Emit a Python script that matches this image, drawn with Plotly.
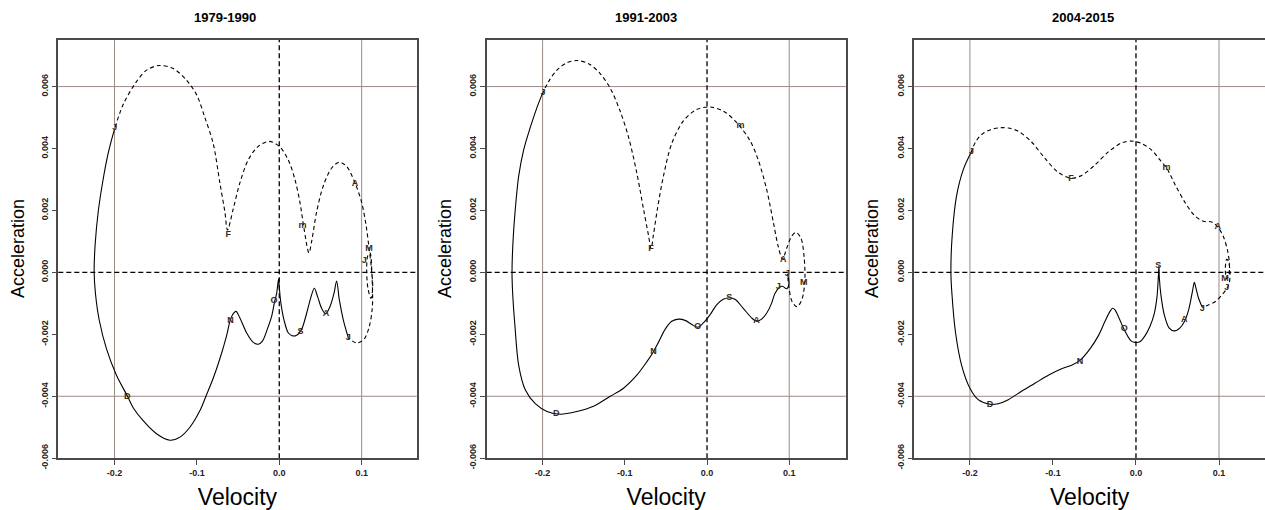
import plotly.graph_objects as go

# ---------------- data ----------------
panel_titles = ["1979-1990", "1991-2003", "2004-2015"]
month_labels = ["J", "F", "m", "A", "M", "J", "J", "A", "S", "O", "N", "D"]

xtick_vals = [-0.2, -0.1, 0.0, 0.1]
xtick_text = ["-0.2", "-0.1", "0.0", "0.1"]
ytick_vals = [-0.006, -0.004, -0.002, 0.0, 0.002, 0.004, 0.006]
ytick_text = ["-0.006", "-0.004", "-0.002", "0.000", "0.002", "0.004", "0.006"]

ref_vlines = [-0.2, 0.1]
ref_hlines = [0.006, -0.004]

# Panel 1 (1979-1990): Jan -> Jul (dashed)
p1_dash_vel = [-0.2016, -0.1895, -0.1733, -0.1611, -0.1457, -0.1287, -0.1126, -0.1004, -0.0903, -0.0802,
               -0.0721, -0.0660, -0.0628, -0.0559, -0.0478, -0.0377, -0.0255, -0.0121, 0.0008, 0.0109,
               0.0190, 0.0251, 0.0300, 0.0360, 0.0393, 0.0453, 0.0534, 0.0636, 0.0729, 0.0818,
               0.0919, 0.1000, 0.1053, 0.1085, 0.1117, 0.1134, 0.1113, 0.1077, 0.1061, 0.1073,
               0.1101, 0.1126, 0.1130, 0.1093, 0.1028, 0.0939, 0.0838]
p1_dash_acc = [0.00447, 0.00542, 0.00616, 0.00653, 0.00668, 0.00658, 0.00621, 0.00574, 0.00500, 0.00416,
               0.00289, 0.00195, 0.00137, 0.00205, 0.00289, 0.00363, 0.00407, 0.00423, 0.00405, 0.00363,
               0.00300, 0.00226, 0.00142, 0.00063, 0.00100, 0.00195, 0.00279, 0.00337, 0.00356, 0.00342,
               0.00289, 0.00226, 0.00153, 0.00089, 0.00016, -0.00047, -0.00084, -0.00053, 0.00005, 0.00053,
               0.00063, -0.00016, -0.00111, -0.00174, -0.00216, -0.00228, -0.00211]
# Panel 1: Jul -> Jan (solid)
p1_solid_vel = [0.0838, 0.0777, 0.0729, 0.0696, 0.0664, 0.0615, 0.0563, 0.0514, 0.0466, 0.0425,
                0.0385, 0.0332, 0.0271, 0.0211, 0.0162, 0.0109, 0.0057, 0.0020, 0.0000, -0.0008,
                -0.0032, -0.0057, -0.0093, -0.0146, -0.0202, -0.0255, -0.0316, -0.0397, -0.0478, -0.0526,
                -0.0567, -0.0599, -0.0640, -0.0721, -0.0802, -0.0883, -0.0964, -0.1085, -0.1206, -0.1328,
                -0.1490, -0.1652, -0.1773, -0.1842, -0.1976, -0.2097, -0.2186, -0.2231, -0.2247, -0.2235,
                -0.2198, -0.2138, -0.2077, -0.2016]
p1_solid_acc = [-0.00211, -0.00153, -0.00089, -0.00028, -0.00068, -0.00111, -0.00134, -0.00116, -0.00079, -0.00051,
                -0.00079, -0.00132, -0.00184, -0.00203, -0.00205, -0.00195, -0.00153, -0.00100, -0.00047, -0.00021,
                -0.00068, -0.00095, -0.00142, -0.00184, -0.00221, -0.00232, -0.00226, -0.00195, -0.00147, -0.00126,
                -0.00137, -0.00158, -0.00205, -0.00279, -0.00342, -0.00395, -0.00447, -0.00500, -0.00532, -0.00542,
                -0.00521, -0.00479, -0.00437, -0.00400, -0.00332, -0.00247, -0.00153, -0.00068, 0.0, 0.00089,
                0.00195, 0.00300, 0.00384, 0.00447]
p1_lab_vel = [-0.1996, -0.0619, 0.0283, 0.0919, 0.1089, 0.1032, 0.0838, 0.0567, 0.0259, -0.0065, -0.0591, -0.1846]
p1_lab_acc = [0.00466, 0.00123, 0.00149, 0.00286, 0.00077, 0.00037, -0.00211, -0.00134, -0.00193, -0.00092, -0.00155, -0.00400]

# Panel 2 (1991-2003)
p2_dash_vel = [-0.2008, -0.1927, -0.1826, -0.1704, -0.1583, -0.1441, -0.1300, -0.1178, -0.1057, -0.0955,
               -0.0854, -0.0773, -0.0713, -0.0680, -0.0652, -0.0603, -0.0530, -0.0429, -0.0287, -0.0126,
               0.0036, 0.0198, 0.0360, 0.0522, 0.0623, 0.0725, 0.0806, 0.0866, 0.0919, 0.0968,
               0.1028, 0.1081, 0.1142, 0.1182, 0.1190, 0.1158, 0.1097, 0.1036, 0.0996, 0.0980]
p2_dash_acc = [0.00574, 0.00616, 0.00653, 0.00677, 0.00684, 0.00674, 0.00642, 0.00595, 0.00521, 0.00437,
               0.00321, 0.00205, 0.00121, 0.00077, 0.00121, 0.00205, 0.00311, 0.00416, 0.00489, 0.00526,
               0.00534, 0.00521, 0.00484, 0.00426, 0.00363, 0.00268, 0.00163, 0.00084, 0.00042, 0.00077,
               0.00116, 0.00129, 0.00111, 0.00047, -0.00026, -0.00084, -0.00111, -0.00095, -0.00047, -0.00005]
p2_solid_vel = [0.0980, 0.0996, 0.0968, 0.0919, 0.0879, 0.0826, 0.0785, 0.0725, 0.0664, 0.0603,
                0.0543, 0.0441, 0.0340, 0.0271, 0.0198, 0.0117, 0.0036, -0.0045, -0.0113, -0.0186,
                -0.0267, -0.0348, -0.0429, -0.0510, -0.0591, -0.0652, -0.0733, -0.0854, -0.1016, -0.1178,
                -0.1381, -0.1583, -0.1785, -0.1947, -0.2089, -0.2211, -0.2291, -0.2336, -0.2364, -0.2372,
                -0.2360, -0.2332, -0.2291, -0.2231, -0.2150, -0.2069, -0.2008]
p2_solid_acc = [-0.00005, -0.00037, -0.00053, -0.00045, -0.00049, -0.00068, -0.00100, -0.00132, -0.00151, -0.00158,
                -0.00147, -0.00116, -0.00087, -0.00082, -0.00087, -0.00105, -0.00137, -0.00163, -0.00177, -0.00168,
                -0.00155, -0.00151, -0.00158, -0.00184, -0.00226, -0.00256, -0.00289, -0.00332, -0.00374, -0.00400,
                -0.00432, -0.00449, -0.00458, -0.00449, -0.00424, -0.00379, -0.00300, -0.00174, -0.00068, 0.0,
                0.00100, 0.00205, 0.00311, 0.00395, 0.00468, 0.00532, 0.00574]
p2_lab_vel = [-0.1996, -0.0680, 0.0409, 0.0927, 0.1178, 0.0976, 0.0866, 0.0603, 0.0271, -0.0113, -0.0652, -0.1834]
p2_lab_acc = [0.00581, 0.00077, 0.00472, 0.00042, -0.00035, -0.00005, -0.00047, -0.00155, -0.00082, -0.00177, -0.00256, -0.00458]

# Panel 3 (2004-2015)
p3_dash_vel = [-0.1988, -0.1932, -0.1859, -0.1759, -0.1639, -0.1538, -0.1418, -0.1257, -0.1096, -0.0936,
               -0.0783, -0.0655, -0.0494, -0.0333, -0.0173, -0.0052, 0.0068, 0.0189, 0.0289, 0.0369,
               0.0470, 0.0590, 0.0711, 0.0811, 0.0912, 0.0984, 0.1052, 0.1100, 0.1124, 0.1120,
               0.1092, 0.1076, 0.1092, 0.1112, 0.1133, 0.1120, 0.1092, 0.1032, 0.0952, 0.0871, 0.0799]
p3_dash_acc = [0.00386, 0.00421, 0.00445, 0.00460, 0.00467, 0.00466, 0.00456, 0.00421, 0.00368, 0.00323,
               0.00304, 0.00313, 0.00347, 0.00389, 0.00418, 0.00424, 0.00416, 0.00395, 0.00363, 0.00337,
               0.00284, 0.00226, 0.00182, 0.00165, 0.00163, 0.00147, 0.00116, 0.00074, 0.00032, -0.00005,
               -0.00021, 0.00005, 0.00042, 0.00037, -0.00005, -0.00039, -0.00053, -0.00074, -0.00095, -0.00105, -0.00113]
p3_solid_vel = [0.0799, 0.0751, 0.0719, 0.0703, 0.0679, 0.0639, 0.0590, 0.0530, 0.0462, 0.0398,
                0.0341, 0.0301, 0.0281, 0.0277, 0.0269, 0.0253, 0.0221, 0.0169, 0.0108, 0.0048,
                -0.0012, -0.0060, -0.0112, -0.0153, -0.0205, -0.0253, -0.0281, -0.0313, -0.0373, -0.0454,
                -0.0554, -0.0675, -0.0775, -0.0896, -0.1056, -0.1217, -0.1378, -0.1538, -0.1659, -0.1759,
                -0.1900, -0.2000, -0.2100, -0.2173, -0.2217, -0.2229, -0.2213, -0.2161, -0.2080, -0.1988]
p3_solid_acc = [-0.00113, -0.00081, -0.00047, -0.00032, -0.00063, -0.00116, -0.00155, -0.00179, -0.00189, -0.00179,
                -0.00137, -0.00074, -0.00016, 0.00021, -0.00016, -0.00079, -0.00132, -0.00174, -0.00205, -0.00224,
                -0.00226, -0.00221, -0.00200, -0.00179, -0.00147, -0.00121, -0.00116, -0.00126, -0.00158, -0.00205,
                -0.00247, -0.00284, -0.00300, -0.00311, -0.00332, -0.00358, -0.00384, -0.00411, -0.00424, -0.00426,
                -0.00411, -0.00374, -0.00300, -0.00195, -0.00068, 0.0, 0.00121, 0.00247, 0.00332, 0.00386]
p3_lab_vel = [-0.1980, -0.0783, 0.0369, 0.0984, 0.1072, 0.1092, 0.0799, 0.0582, 0.0269, -0.0141, -0.0675, -0.1759]
p3_lab_acc = [0.00389, 0.00302, 0.00337, 0.00147, -0.00021, -0.00049, -0.00116, -0.00153, 0.00021, -0.00182, -0.00287, -0.00426]

panels = [
    (p1_dash_vel, p1_dash_acc, p1_solid_vel, p1_solid_acc, p1_lab_vel, p1_lab_acc),
    (p2_dash_vel, p2_dash_acc, p2_solid_vel, p2_solid_acc, p2_lab_vel, p2_lab_acc),
    (p3_dash_vel, p3_dash_acc, p3_solid_vel, p3_solid_acc, p3_lab_vel, p3_lab_acc),
]

# ---------------- layout geometry ----------------
W, H = 1265, 510
x_domains = [[58.3 / W, 416.7 / W], [486.7 / W, 845.7 / W], [914.3 / W, 1.0]]
x_ranges = [[-0.2682, 0.1668], [-0.2680, 0.1687], [-0.2670, 0.1554]]
y_domain = [1 - 468.3 / H, 1 - 41 / H]
y_range = [-0.0060, 0.0075]
title_x_px = [225, 645.5, 1082.5]
acc_x_px = [18, 445, 872]

FONT = "Liberation Sans, Arial, sans-serif"
GRID_COL = "#9a8b85"
FRAME_COL = "#4a4a4a"
LAB_COL = "#3a2a1a"

fig = go.Figure()
layout = dict(
    width=W, height=H, margin=dict(l=0, r=0, t=0, b=0),
    paper_bgcolor="white", plot_bgcolor="white", showlegend=False,
    font=dict(family=FONT, color="black"),
)
shapes = []
annotations = []

for i, (dv, da, sv, sa, lv, la) in enumerate(panels):
    k = "" if i == 0 else str(i + 1)
    xa, ya = "x" + k, "y" + k
    fig.add_trace(go.Scatter(x=dv, y=da, mode="lines", xaxis=xa, yaxis=ya,
                             line=dict(color="black", width=1.1, dash="4px,3px", shape="spline", smoothing=0.9),
                             hoverinfo="skip"))
    fig.add_trace(go.Scatter(x=sv, y=sa, mode="lines", xaxis=xa, yaxis=ya,
                             line=dict(color="black", width=1.1, shape="spline", smoothing=0.9),
                             hoverinfo="skip"))
    fig.add_trace(go.Scatter(x=lv, y=la, mode="text", text=month_labels, xaxis=xa, yaxis=ya,
                             textposition="middle center",
                             textfont=dict(family=FONT, size=9, color=LAB_COL, weight="bold"),
                             hoverinfo="skip"))

    last = (i == 2)
    layout["xaxis" + k] = dict(
        domain=x_domains[i], range=x_ranges[i], anchor=ya,
        showgrid=False, zeroline=False,
        showline=True, linecolor=FRAME_COL, linewidth=1.5, mirror=True,
        ticks="outside", ticklen=5, tickcolor=FRAME_COL, tickwidth=1,
        tickvals=xtick_vals, ticktext=xtick_text,
        tickfont=dict(family=FONT, size=9, color="#222", weight="bold"),
        title=dict(text="Velocity", font=dict(family=FONT, size=23, color="black"), standoff=30),
        automargin=False,
    )
    layout["yaxis" + k] = dict(
        domain=y_domain, range=y_range, anchor=xa,
        showgrid=False, zeroline=False,
        showline=True, linecolor=FRAME_COL, linewidth=1.5, mirror=(False if last else True),
        ticks="outside", ticklen=5, tickcolor=FRAME_COL, tickwidth=1,
        tickvals=ytick_vals, ticktext=ytick_text, tickangle=-90,
        tickfont=dict(family=FONT, size=9, color="#222", weight="bold"),
    )

    # reference grid lines
    for v in ref_vlines:
        shapes.append(dict(type="line", xref=xa, yref=ya + " domain", x0=v, x1=v, y0=0, y1=1,
                           line=dict(color=GRID_COL, width=1), layer="below"))
    for h in ref_hlines:
        shapes.append(dict(type="line", xref=xa + " domain", yref=ya, x0=0, x1=1, y0=h, y1=h,
                           line=dict(color=GRID_COL, width=1), layer="below"))
    # zero lines (dashed)
    shapes.append(dict(type="line", xref=xa, yref=ya + " domain", x0=0, x1=0, y0=0, y1=1,
                       line=dict(color="black", width=1.3, dash="5px,3px"), layer="below"))
    shapes.append(dict(type="line", xref=xa + " domain", yref=ya, x0=0, x1=1, y0=0, y1=0,
                       line=dict(color="black", width=1.3, dash="5px,3px"), layer="below"))

    annotations.append(dict(text="<b>" + panel_titles[i] + "</b>", xref="paper", yref="paper",
                            x=title_x_px[i] / W, y=1 - 18 / H, xanchor="center", yanchor="middle",
                            showarrow=False, font=dict(family=FONT, size=13, color="black")))
    annotations.append(dict(text="Acceleration", xref="paper", yref="paper",
                            x=acc_x_px[i] / W, y=1 - 254.5 / H, xanchor="center", yanchor="middle",
                            textangle=-90, showarrow=False, font=dict(family=FONT, size=18, color="black")))

layout["shapes"] = shapes
layout["annotations"] = annotations
fig.update_layout(**layout)
fig.write_html("out.html")
